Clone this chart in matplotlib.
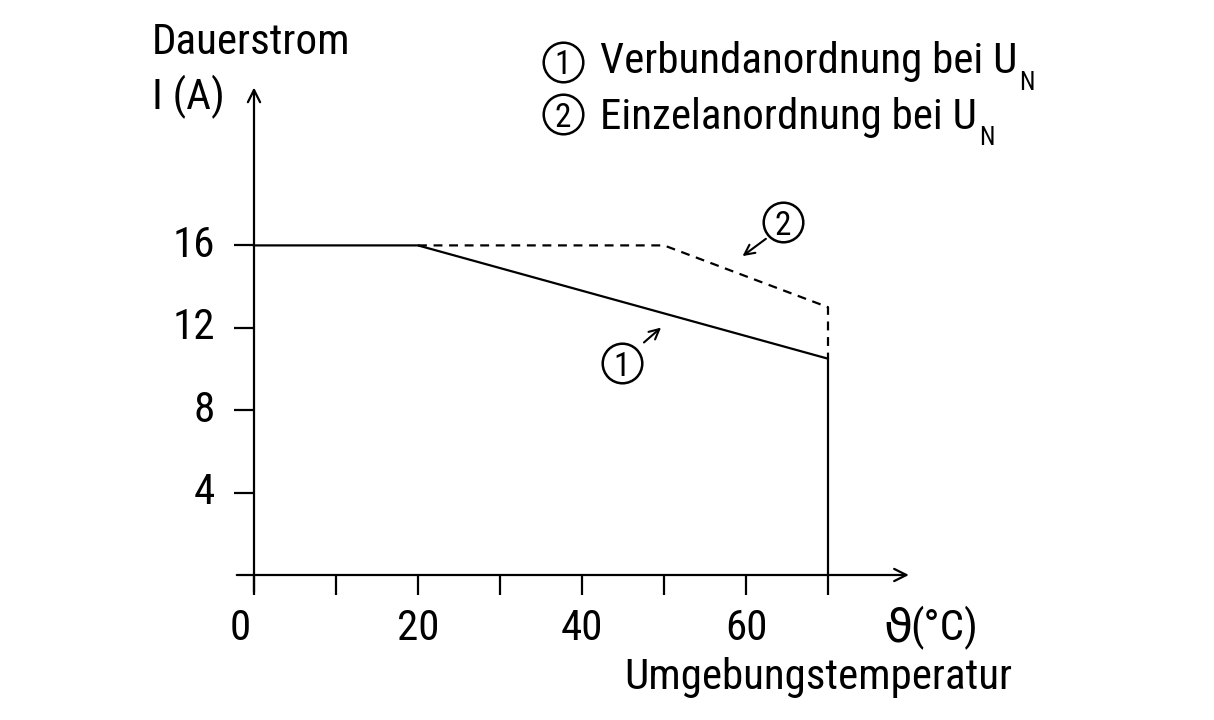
import matplotlib
matplotlib.use('Agg')
import matplotlib.pyplot as plt

plt.rcParams['font.family'] = ['Roboto Condensed', 'Liberation Sans Narrow', 'Roboto', 'DejaVu Sans']

# Daten
x_verbund = [0, 20, 70, 70]
i_verbund = [16, 16, 10.5, 0]
x_einzel = [20, 50, 70, 70]
i_einzel = [16, 16, 13, 10.5]
x_ticks = [0, 10, 20, 30, 40, 50, 60, 70]
x_labels = [0, 20, 40, 60]
y_ticks = [4, 8, 12, 16]

# Pixel-Skala der Vorlage (0-Punkt bei 254/575, 8.2 px pro Grad, 20.6 px pro A)
x0, y0, sx, sy = 254, 575, 8.2, 20.6
W, H = 1214, 720

def px(x, y):
    # Pixel der Vorlage -> Datenkoordinaten
    return (x - x0) / sx, (y0 - y) / sy

fig = plt.figure(figsize=(12.14, 7.2), dpi=100)
ax = fig.add_axes([0, 0, 1, 1])
ax.set_xlim(-x0 / sx, (W - x0) / sx)
ax.set_ylim((y0 - H) / sy, y0 / sy)
ax.axis('off')

lw = 1.6
tick_x = 20 / sx   # 20 px
tick_y = 20 / sy

# Achsen mit Pfeil
ax.annotate('', xy=(80.2, 0), xytext=(-tick_x, 0),
            arrowprops=dict(arrowstyle='->', lw=lw, color='black', mutation_scale=22))
ax.annotate('', xy=(0, 23.8), xytext=(0, -tick_y),
            arrowprops=dict(arrowstyle='->', lw=lw, color='black', mutation_scale=22))

for t in x_ticks:
    ax.plot([t, t], [0, -tick_y], color='black', lw=lw, solid_capstyle='butt')
for t in y_ticks:
    ax.plot([-tick_x, 0], [t, t], color='black', lw=lw, solid_capstyle='butt')

fs = 31
for t in x_labels:
    ax.text(t - (14 / sx if t == 0 else 0), px(0, 628)[1], str(t), ha='center', va='center', fontsize=fs)
for t in y_ticks:
    ax.text(-39 / sx, t, str(t), ha='right', va='center', fontsize=fs)

# Kurven
ax.plot(x_verbund, i_verbund, color='black', lw=lw)
ax.plot(x_einzel, i_einzel, color='black', lw=lw, linestyle=(0, (4, 3)))

# Beschriftungen
ax.text(*px(152, 43), 'Dauerstrom', ha='left', va='center', fontsize=fs)
ax.text(*px(152, 97), 'I (A)', ha='left', va='center', fontsize=fs)
ax.text(*px(898, 629), 'ϑ', ha='center', va='center', fontsize=fs + 3, family='DejaVu Sans')
ax.text(*px(978, 628), '(°C)', ha='right', va='center', fontsize=fs)
ax.text(*px(1012, 678), 'Umgebungstemperatur', ha='right', va='center', fontsize=fs)

# eingekreiste Ziffern
def kreis(xy, s):
    ax.plot(*xy, marker='o', ms=28.5, mfc='none', mec='black', mew=1.8)
    ax.text(xy[0], xy[1], s, ha='center', va='center_baseline', fontsize=24)

kreis(px(563, 62), '1')
kreis(px(563, 114), '2')
t1 = ax.text(*px(600, 62), 'Verbundanordnung bei U', ha='left', va='center', fontsize=fs)
t2 = ax.text(*px(600, 117), 'Einzelanordnung bei U', ha='left', va='center', fontsize=fs)
for t in (t1, t2):
    ax.annotate('N', xy=(1, 0), xycoords=t, xytext=(1.5, -9), textcoords='offset points',
                ha='left', va='bottom', fontsize=18)

# Kurvenmarken
kreis(px(783, 222), '2')
ax.annotate('', xy=(59.3, 15.4), xytext=(62.7, 16.4),
            arrowprops=dict(arrowstyle='->', lw=1.5, color='black', mutation_scale=18))
kreis(px(622, 363), '1')
ax.annotate('', xy=(49.9, 12.1), xytext=(47.3, 11.2),
            arrowprops=dict(arrowstyle='->', lw=1.5, color='black', mutation_scale=18))

plt.savefig('out.png', dpi=100)
